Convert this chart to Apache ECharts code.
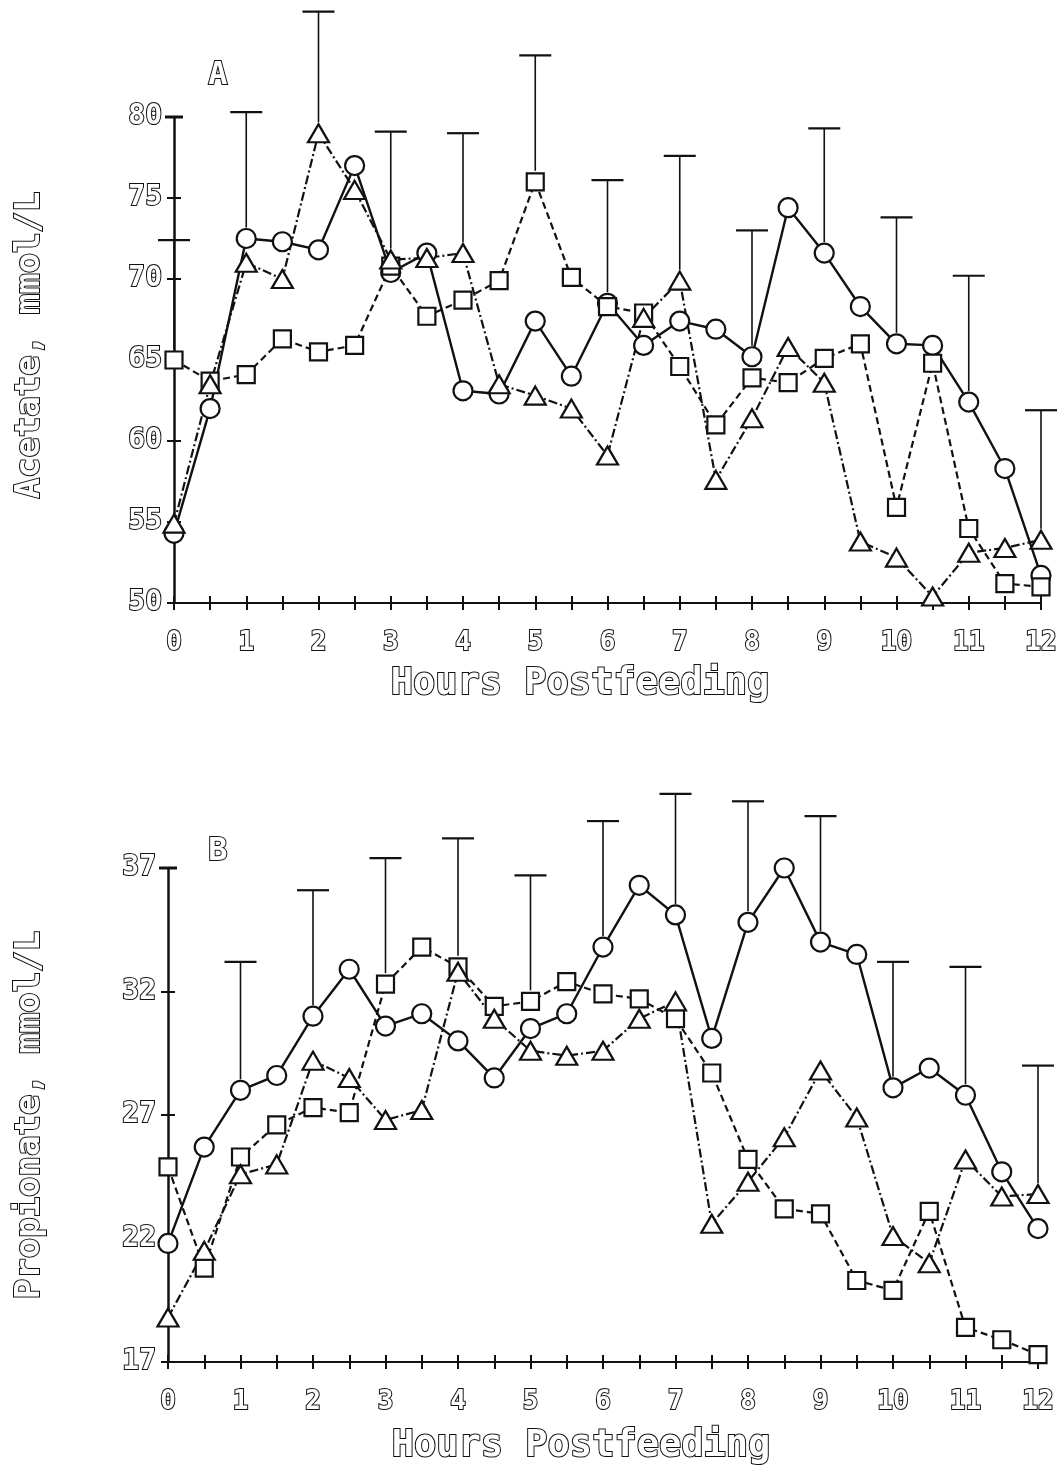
<!DOCTYPE html>
<html>
<head>
<meta charset="utf-8">
<script src="https://cdn.jsdelivr.net/npm/echarts@6/dist/echarts.min.js"></script>
<style>
  html, body { margin: 0; padding: 0; background: #fff; }
  #chart { width: 1064px; height: 1475px; }
</style>
</head>
<body>
<div id="chart"></div>
<script>
// Sampling times (hours after feeding)
const hours = [0, 0.5, 1, 1.5, 2, 2.5, 3, 3.5, 4, 4.5, 5, 5.5, 6, 6.5, 7, 7.5, 8, 8.5, 9, 9.5, 10, 10.5, 11, 11.5, 12];

// Panel A: acetate, mmol/L
const acetateCircle   = [54.3, 62.0, 72.5, 72.3, 71.8, 77.0, 70.4, 71.6, 63.1, 62.9, 67.4, 64.0, 68.5, 65.9, 67.4, 66.9, 65.2, 74.4, 71.6, 68.3, 66.0, 65.9, 62.4, 58.3, 51.7];
const acetateSquare   = [65.0, 63.7, 64.1, 66.3, 65.5, 65.9, 70.8, 67.7, 68.7, 69.9, 76.0, 70.1, 68.3, 67.9, 64.6, 61.0, 63.9, 63.6, 65.1, 66.0, 55.9, 64.8, 54.6, 51.2, 51.0];
const acetateTriangle = [54.9, 63.5, 71.0, 70.0, 79.0, 75.5, 71.2, 71.3, 71.6, 63.5, 62.8, 62.0, 59.1, 67.6, 69.9, 57.6, 61.4, 65.8, 63.6, 53.8, 52.8, 50.4, 53.1, 53.4, 53.9];

// Panel B: propionate, mmol/L
const propionateCircle   = [21.8, 25.7, 28.0, 28.6, 31.0, 32.9, 30.6, 31.1, 30.0, 28.5, 30.5, 31.1, 33.8, 36.3, 35.1, 30.1, 34.8, 37.0, 34.0, 33.5, 28.1, 28.9, 27.8, 24.7, 22.4];
const propionateSquare   = [24.9, 20.8, 25.3, 26.6, 27.3, 27.1, 32.3, 33.8, 33.0, 31.4, 31.6, 32.4, 31.9, 31.7, 30.9, 28.7, 25.2, 23.2, 23.0, 20.3, 19.9, 23.1, 18.4, 17.9, 17.3];
const propionateTriangle = [18.8, 21.5, 24.6, 25.0, 29.2, 28.5, 26.8, 27.2, 32.8, 30.9, 29.6, 29.4, 29.6, 30.9, 31.6, 22.6, 24.3, 26.1, 28.8, 26.9, 22.1, 21.0, 25.2, 23.7, 23.8];

// Upper error bars, hourly
const errorHours      = [0, 1, 2, 3, 4, 5, 6, 7, 8, 9, 10, 11, 12];
const acetateUpper    = [72.4, 80.3, 86.5, 79.1, 79.0, 83.8, 76.1, 77.6, 73.0, 79.3, 73.8, 70.2, 61.9];
const propionateUpper = [null, 33.2, 36.1, 37.4, 38.2, 36.7, 38.9, 40.0, 39.7, 39.1, 33.2, 33.0, 29.0];

// Axis ranges and ticks
const acetateAxis    = { min: 50, max: 80, step: 5 };
const propionateAxis = { min: 17, max: 37, step: 5 };
const hourAxis       = { min: 0, max: 12, step: 0.5 };

const INK = '#111';
const FONT = '"DejaVu Sans Mono", monospace';

const pair = (ys) => hours.map((h, i) => [h, ys[i]]);

function xAxes(gridIndex) {
  const common = {
    type: 'value', gridIndex, position: 'bottom',
    min: hourAxis.min, max: hourAxis.max, interval: hourAxis.step,
    splitLine: { show: false }
  };
  return [
    Object.assign({}, common, {
      axisLine: { show: true, lineStyle: { color: INK, width: 2 } },
      axisTick: { show: true, inside: false, length: 7, lineStyle: { color: INK, width: 2 } },
      axisLabel: {
        margin: 27, fontFamily: FONT, fontSize: 26, fontWeight: 'bold', color: '#fff',
        textBorderColor: INK, textBorderWidth: 2,
        formatter: (v) => (Math.abs(v - Math.round(v)) < 1e-6 ? String(Math.round(v)) : '')
      }
    }),
    Object.assign({}, common, {
      axisLine: { show: false },
      axisTick: { show: true, inside: true, length: 7, lineStyle: { color: INK, width: 2 } },
      axisLabel: { show: false }
    })
  ];
}

function yAxes(gridIndex, ax) {
  const common = {
    type: 'value', gridIndex, position: 'left',
    min: ax.min, max: ax.max, interval: ax.step,
    splitLine: { show: false }
  };
  return [
    Object.assign({}, common, {
      axisLine: { show: true, lineStyle: { color: INK, width: 2.5 }, symbol: ['none', 'rect'], symbolSize: [18, 3] },
      axisTick: { show: true, inside: false, length: 7, lineStyle: { color: INK, width: 2 } },
      axisLabel: {
        margin: 12, fontFamily: FONT, fontSize: 28, fontWeight: 'bold', color: '#fff',
        textBorderColor: INK, textBorderWidth: 2
      }
    }),
    Object.assign({}, common, {
      axisLine: { show: false },
      axisTick: { show: true, inside: true, length: 7, lineStyle: { color: INK, width: 2 } },
      axisLabel: { show: false }
    })
  ];
}

function lineSeries(name, ys, axisIdx, symbol, size, dash, width) {
  return {
    name, type: 'line', data: pair(ys),
    xAxisIndex: axisIdx, yAxisIndex: axisIdx,
    symbol, symbolSize: size, showAllSymbol: true,
    lineStyle: { color: INK, width, type: dash },
    itemStyle: { color: '#fff', borderColor: INK, borderWidth: 2.2 },
    z: 3, animation: false
  };
}

// Upper error bar: cap at the top, stem down to the highest marker at that hour
function errorSeries(upper, groups, axisIdx) {
  const data = [];
  errorHours.forEach((h, i) => {
    if (upper[i] == null) return;
    const k = hours.indexOf(h);
    const base = Math.max.apply(null, groups.map((g) => g[k]));
    data.push([h, base, upper[i]]);
  });
  return {
    type: 'custom', xAxisIndex: axisIdx, yAxisIndex: axisIdx,
    data, z: 2, clip: false, animation: false,
    renderItem(params, api) {
      const h = api.value(0);
      const top = api.coord([h, api.value(2)]);
      const bot = api.coord([h, api.value(1)]);
      return {
        type: 'group',
        children: [
          { type: 'line', shape: { x1: top[0] - 16, y1: top[1], x2: top[0] + 16, y2: top[1] },
            style: { stroke: INK, lineWidth: 2.2 } },
          { type: 'line', shape: { x1: top[0], y1: top[1], x2: bot[0], y2: Math.max(top[1], bot[1] - 11) },
            style: { stroke: INK, lineWidth: 1.6 } }
        ]
      };
    }
  };
}

function label(text, x, y, size, rotation) {
  return {
    type: 'text', x, y, rotation: rotation || 0,
    style: {
      text, fontFamily: FONT, fontSize: size, fontWeight: 'bold', fill: '#fff',
      stroke: INK, lineWidth: 2, align: 'center', verticalAlign: 'middle'
    }
  };
}

const chart = echarts.init(document.getElementById('chart'), null, { renderer: 'canvas' });

chart.setOption({
  backgroundColor: '#fff',
  animation: false,
  grid: [
    { left: 174, top: 117, width: 867, height: 486 },
    { left: 168, top: 868, width: 870, height: 494 }
  ],
  xAxis: xAxes(0).concat(xAxes(1)),
  yAxis: yAxes(0, acetateAxis).concat(yAxes(1, propionateAxis)),
  graphic: [
    label('A', 218, 76, 32),
    label('B', 218, 852, 32),
    label('Acetate, mmol/L', 30, 345, 34, Math.PI / 2),
    label('Propionate, mmol/L', 30, 1115, 34, Math.PI / 2),
    label('Hours Postfeeding', 580, 684, 37),
    label('Hours Postfeeding', 581, 1446, 37)
  ],
  series: [
    errorSeries(acetateUpper, [acetateCircle, acetateSquare, acetateTriangle], 0),
    lineSeries('Acetate ○', acetateCircle, 0, 'circle', 19, 'solid', 2.4),
    lineSeries('Acetate □', acetateSquare, 0, 'rect', 17, [7, 4], 2.2),
    lineSeries('Acetate △', acetateTriangle, 0, 'triangle', [21, 18], [9, 3, 2, 3], 2.2),

    errorSeries(propionateUpper, [propionateCircle, propionateSquare, propionateTriangle], 2),
    lineSeries('Propionate ○', propionateCircle, 2, 'circle', 19, 'solid', 2.4),
    lineSeries('Propionate □', propionateSquare, 2, 'rect', 17, [7, 4], 2.2),
    lineSeries('Propionate △', propionateTriangle, 2, 'triangle', [21, 18], [9, 3, 2, 3], 2.2)
  ]
});
</script>
</body>
</html>
